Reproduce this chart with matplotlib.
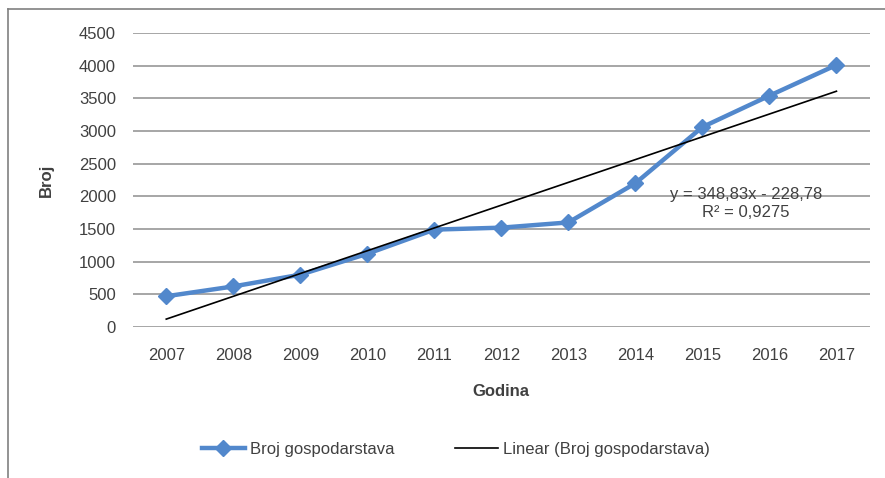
import numpy as np
import matplotlib
matplotlib.use("Agg")
import matplotlib.pyplot as plt
from matplotlib.lines import Line2D

years = ["2007", "2008", "2009", "2010", "2011", "2012",
         "2013", "2014", "2015", "2016", "2017"]
farms = [470, 620, 800, 1120, 1490, 1520, 1600, 2200, 3060, 3540, 4010]
TREND_SLOPE = 348.83
TREND_INTERCEPT = -228.78
yticks = [0, 500, 1000, 1500, 2000, 2500, 3000, 3500, 4000, 4500]

BLUE = "#5288cc"
TXT = "#404040"
FS = 12

plt.rcParams["font.family"] = ["Liberation Sans", "DejaVu Sans"]

fig = plt.figure(figsize=(8.85, 4.78), dpi=100)
ax = fig.add_axes([0.150, 0.316, 0.833, 0.615])

x = np.arange(len(years))
trend = TREND_SLOPE * (x + 1) + TREND_INTERCEPT

ax.plot(x, farms, "-D", color=BLUE, lw=3.2, ms=8, mec=BLUE, zorder=3,
        label="Broj gospodarstava")
ax.plot(x, trend, "-", color="black", lw=1.2, zorder=4,
        label="Linear (Broj gospodarstava)")

ax.set_xlim(-0.5, len(years) - 0.5)
ax.set_ylim(0, 4500)
ax.set_xticks(x)
ax.set_xticklabels(years)
ax.set_yticks(yticks)
ax.tick_params(length=0, labelsize=FS, colors=TXT, pad=12)
ax.tick_params(axis="x", pad=15)
ax.grid(axis="y", color="#a6a6a6", lw=1.4)
ax.set_axisbelow(True)
for s in ax.spines.values():
    s.set_visible(False)

ax.set_xlabel("Godina", fontsize=FS, fontweight="bold", color=TXT, labelpad=15)
ax.set_ylabel("Broj", fontsize=FS, fontweight="bold", color=TXT, labelpad=18)

eq = f"y = {TREND_SLOPE:.2f}x - {abs(TREND_INTERCEPT):.2f}".replace(".", ",")
ax.text(0.832, 0.42, eq + "\nR² = 0,9275", transform=ax.transAxes,
        ha="center", va="center", fontsize=FS, color=TXT, linespacing=1.3)

fig.legend(loc="center", bbox_to_anchor=(0.515, 0.06), ncol=2, frameon=False,
           fontsize=FS, handlelength=2.6, handletextpad=0.3,
           columnspacing=3.6, labelcolor=TXT)

# outer chart border (top and left visible)
fig.add_artist(Line2D([0.009, 1.0], [0.981, 0.981], color="#808080", lw=1.2))
fig.add_artist(Line2D([0.009, 0.009], [0.0, 0.981], color="#808080", lw=1.2))

fig.savefig("out.png", dpi=100)
